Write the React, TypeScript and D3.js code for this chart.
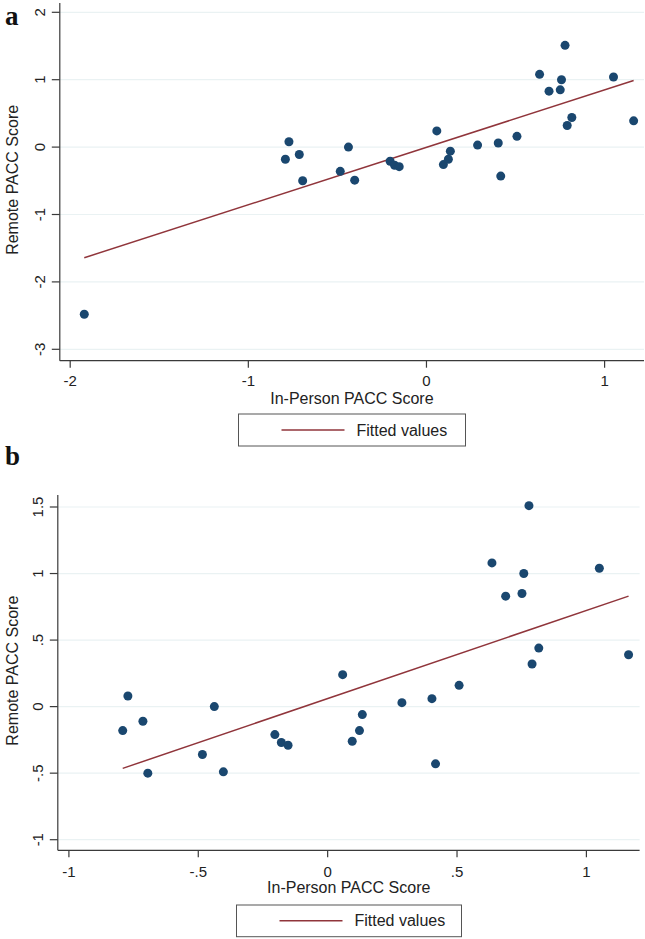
import { useEffect, useRef } from "react"
import * as d3 from "d3"

// In-person vs remote PACC scores (one entry per participant)
const inPerson = [
  -0.792, -0.772, -0.714, -0.695, -0.484, -0.438, -0.403, -0.204, -0.179, -0.153,
  0.058, 0.095, 0.123, 0.134, 0.287, 0.403, 0.417, 0.508, 0.635, 0.688,
  0.751, 0.758, 0.778, 0.79, 0.816, 1.05, 1.163, -1.921,
]
const remote = [
  -0.18, 0.08, -0.11, -0.5, -0.36, 0.0, -0.49, -0.21, -0.27, -0.29,
  0.24, -0.26, -0.18, -0.06, 0.03, 0.06, -0.43, 0.16, 1.08, 0.83,
  0.85, 1.0, 1.51, 0.32, 0.44, 1.04, 0.39, -2.48,
]
// panel b drops the outlier
const excludedInB = [27]

const ticksAX = [-2, -1, 0, 1]
const ticksAY = [-3, -2, -1, 0, 1, 2]
const ticksBX = [-1, -0.5, 0, 0.5, 1]
const ticksBY = [-1, -0.5, 0, 0.5, 1, 1.5]

const legendLabel = "Fitted values"
const xTitle = "In-Person PACC Score"
const yTitle = "Remote PACC Score"

const DOT = "#1a476f"
const FIT = "#90353b"
const GRID = "#eaf2f3"
const AXIS = "#3a3a3a"
const FONT = "'Liberation Sans', Arial, sans-serif"

// Stata style: no leading zero
const fmt = (v) => {
  if (v === 0) return "0"
  const s = String(v)
  return s.replace(/^(-?)0\./, "$1.")
}

const fitLine = (xs, ys) => {
  const mx = d3.mean(xs)
  const my = d3.mean(ys)
  let sxy = 0
  let sxx = 0
  xs.forEach((x, i) => {
    sxy += (x - mx) * (ys[i] - my)
    sxx += (x - mx) * (x - mx)
  })
  const b = sxy / sxx
  const a = my - b * mx
  const [x0, x1] = d3.extent(xs)
  return [
    { x: x0, y: a + b * x0 },
    { x: x1, y: a + b * x1 },
  ]
}

const drawPanel = (svg, cfg) => {
  const g = svg.append("g")
  const x = d3.scaleLinear().domain(cfg.xTickDomain).range(cfg.xTickRange)
  const y = d3.scaleLinear().domain(cfg.yTickDomain).range(cfg.yTickRange)
  const { left, right, top, bottom } = cfg.frame

  // gridlines
  g.selectAll(".grid")
    .data(cfg.yTicks)
    .enter()
    .append("line")
    .attr("x1", left)
    .attr("x2", right)
    .attr("y1", (d) => y(d))
    .attr("y2", (d) => y(d))
    .attr("stroke", GRID)
    .attr("stroke-width", 1.2)

  // axes
  g.append("line")
    .attr("x1", left)
    .attr("x2", left)
    .attr("y1", top)
    .attr("y2", bottom)
    .attr("stroke", AXIS)
    .attr("stroke-width", 1.2)
  g.append("line")
    .attr("x1", left)
    .attr("x2", right)
    .attr("y1", bottom)
    .attr("y2", bottom)
    .attr("stroke", AXIS)
    .attr("stroke-width", 1.2)

  // y ticks
  g.selectAll(".ytick")
    .data(cfg.yTicks)
    .enter()
    .append("line")
    .attr("x1", left - 8)
    .attr("x2", left)
    .attr("y1", (d) => y(d))
    .attr("y2", (d) => y(d))
    .attr("stroke", AXIS)
    .attr("stroke-width", 1.2)
  g.selectAll(".ylab")
    .data(cfg.yTicks)
    .enter()
    .append("text")
    .attr("transform", (d) => `translate(${left - 14.5},${y(d)}) rotate(-90)`)
    .attr("text-anchor", "middle")
    .style("font-family", FONT)
    .style("font-size", "15px")
    .style("fill", "#222")
    .text(fmt)

  // x ticks
  g.selectAll(".xtick")
    .data(cfg.xTicks)
    .enter()
    .append("line")
    .attr("x1", (d) => x(d))
    .attr("x2", (d) => x(d))
    .attr("y1", bottom)
    .attr("y2", bottom + 7)
    .attr("stroke", AXIS)
    .attr("stroke-width", 1.2)
  g.selectAll(".xlab")
    .data(cfg.xTicks)
    .enter()
    .append("text")
    .attr("x", (d) => x(d))
    .attr("y", bottom + cfg.tickLabelOffset)
    .attr("text-anchor", "middle")
    .style("font-family", FONT)
    .style("font-size", "15px")
    .style("fill", "#222")
    .text(fmt)

  // titles
  g.append("text")
    .attr("x", (left + right) / 2)
    .attr("y", bottom + cfg.titleOffset)
    .attr("text-anchor", "middle")
    .style("font-family", FONT)
    .style("font-size", "16px")
    .style("fill", "#222")
    .text(xTitle)
  g.append("text")
    .attr("transform", `translate(18,${(top + bottom) / 2 - 2}) rotate(-90)`)
    .attr("text-anchor", "middle")
    .style("font-family", FONT)
    .style("font-size", "16px")
    .style("fill", "#222")
    .text(yTitle)

  // fitted line
  const fit = fitLine(cfg.xs, cfg.ys)
  g.append("path")
    .datum(fit)
    .attr("d", d3.line().x((d) => x(d.x)).y((d) => y(d.y)))
    .attr("fill", "none")
    .attr("stroke", FIT)
    .attr("stroke-width", 1.5)

  // points
  g.selectAll(".dot")
    .data(cfg.xs.map((v, i) => ({ x: v, y: cfg.ys[i] })))
    .enter()
    .append("circle")
    .attr("cx", (d) => x(d.x))
    .attr("cy", (d) => y(d.y))
    .attr("r", 4.5)
    .attr("fill", DOT)

  // legend
  const lg = cfg.legend
  g.append("rect")
    .attr("x", lg.x)
    .attr("y", lg.y)
    .attr("width", lg.w)
    .attr("height", lg.h)
    .attr("fill", "white")
    .attr("stroke", "#555")
    .attr("stroke-width", 1)
  g.append("line")
    .attr("x1", lg.x + 43)
    .attr("x2", lg.x + 106)
    .attr("y1", lg.y + lg.h / 2)
    .attr("y2", lg.y + lg.h / 2)
    .attr("stroke", FIT)
    .attr("stroke-width", 1.5)
  g.append("text")
    .attr("x", lg.x + 118)
    .attr("y", lg.y + lg.h / 2 + 5.5)
    .style("font-family", FONT)
    .style("font-size", "16px")
    .style("fill", "#222")
    .text(legendLabel)

  // panel letter
  g.append("text")
    .attr("x", 5)
    .attr("y", cfg.letterY)
    .style("font-family", "'Liberation Serif', 'Times New Roman', serif")
    .style("font-weight", "bold")
    .style("font-size", "27px")
    .style("fill", "#111")
    .text(cfg.letter)
}

const App = () => {
  const svgRef = useRef()

  useEffect(() => {
    document.body.style.margin = "0"
    const svg = d3.select(svgRef.current)
    svg.selectAll("*").remove()

    const xsB = inPerson.filter((_, i) => !excludedInB.includes(i))
    const ysB = remote.filter((_, i) => !excludedInB.includes(i))

    drawPanel(svg, {
      letter: "a",
      letterY: 24.5,
      xs: inPerson,
      ys: remote,
      xTicks: ticksAX,
      yTicks: ticksAY,
      xTickDomain: [-2, 1],
      xTickRange: [70.2, 604.6],
      yTickDomain: [-3, 2],
      yTickRange: [349.3, 12.3],
      frame: { left: 59.8, right: 644, top: 3, bottom: 360.7 },
      tickLabelOffset: 25,
      titleOffset: 43,
      legend: { x: 238.5, y: 414, w: 227, h: 32 },
    })

    drawPanel(svg, {
      letter: "b",
      letterY: 465,
      xs: xsB,
      ys: ysB,
      xTicks: ticksBX,
      yTicks: ticksBY,
      xTickDomain: [-1, 1],
      xTickRange: [68.9, 586.4],
      yTickDomain: [-1, 1.5],
      yTickRange: [839.7, 507],
      frame: { left: 57.8, right: 639.6, top: 495, bottom: 850.3 },
      tickLabelOffset: 26.5,
      titleOffset: 43,
      legend: { x: 236.5, y: 905, w: 225, h: 31.7 },
    })
  }, [])

  return <svg ref={svgRef} width={645} height={939} style={{ display: "block", background: "white" }}></svg>
}

export default App
